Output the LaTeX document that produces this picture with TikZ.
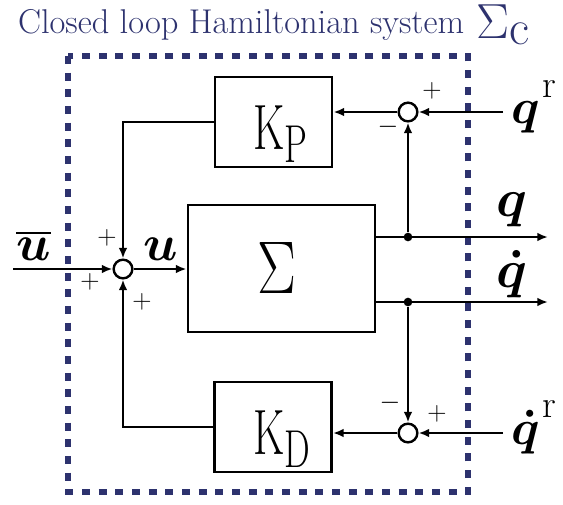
\RequirePackage{fix-cm}
\documentclass[tikz,border=0pt]{standalone}
\usepackage{amsmath}
\usepackage{graphicx}
\definecolor{mynavy}{RGB}{45,50,110}
\usetikzlibrary{arrows.meta}

\begin{document}
\begin{tikzpicture}[x=0.75pt, y=-0.75pt, >={Latex[length=8pt,width=6.5pt]}, line width=1.6pt,
  blk/.style={draw, line width=2.2pt, minimum width=87.75pt, minimum height=67.5pt, inner sep=0pt},
  sumnode/.style={draw, circle, line width=1.8pt, minimum size=14pt, inner sep=0pt},
  sgn/.style={font=\fontsize{20}{20}\selectfont, inner sep=0pt},
  lbl/.style={inner sep=0pt, anchor=base west},
  junc/.style={circle, fill, inner sep=0pt, minimum size=6.5pt}]
  \useasboundingbox (0,0) rectangle (563,504);
  % title
  \node[lbl, text=mynavy, font=\fontsize{25.8}{25.8}\selectfont] (title) at (17,33) {Closed loop Hamiltonian system};
  \node[lbl, text=mynavy, font=\fontsize{37}{37}\selectfont] (sigc) at (475,38) {$\Sigma$\raisebox{-4.5pt}{c}};
  % dashed border
  \draw[mynavy, line width=4pt, dash pattern=on 6pt off 6.5pt] (68,56) rectangle (468,492);
  % blocks
  \node[blk] (kp) at (273.5,122) {};
  \node[blk] (kd) at (273,427) {};
  \node[blk, minimum width=140.25pt, minimum height=95.25pt] (plant) at (281.5,268.5) {};
  \node[lbl, font=\fontsize{48}{48}\selectfont] (kptxt) at (252,149) {\scalebox{0.68}[1]{K\raisebox{-10pt}{\fontsize{40}{40}\selectfont P}}};
  \node[lbl, font=\fontsize{48}{48}\selectfont] (kdtxt) at (252,454) {\scalebox{0.68}[1]{K\raisebox{-10pt}{\fontsize{40}{40}\selectfont D}}};
  \node[inner sep=0pt, font=\fontsize{56}{56}\selectfont] (sigma) at (277,267.5) {\scalebox{0.78}[1]{$\Sigma$}};
  % summing points and branch points
  \node[sumnode] (sp) at (408,112) {};
  \node[sumnode] (sd) at (408,433) {};
  \node[sumnode] (su) at (123,269) {};
  \node[junc] (jq) at (408,237) {};
  \node[junc] (jqd) at (408,302) {};
  \coordinate (qrin) at (503,112);
  \coordinate (qdrin) at (503,433);
  \coordinate (ubin) at (13,269);
  \coordinate (qend) at (548,237);
  \coordinate (qdend) at (548,302);
  % connectors
  \draw[->] (qrin) -- (sp);
  \draw[->] (sp) -- (sp -| kp.east);
  \draw[->] (kp.west) -| (su);
  \draw[->] (kd.west) -| (su);
  \draw[->] (ubin) -- (su);
  \draw[->] (su) -- (su -| plant.west);
  \draw[->] (plant.east |- jq) -- (qend);
  \draw[->] (plant.east |- jqd) -- (qdend);
  \draw[->] (jq) -- (sp);
  \draw[->] (jqd) -- (sd);
  \draw[->] (qdrin) -- (sd);
  \draw[->] (sd) -- (sd -| kd.east);
  % signs
  \node[sgn] (s1) at (432,91) {$+$};
  \node[sgn] (s2) at (388,127) {$-$};
  \node[sgn] (s3) at (390,403) {$-$};
  \node[sgn] (s4) at (437,414) {$+$};
  \node[sgn] (s5) at (107,238) {$+$};
  \node[sgn] (s6) at (90,282) {$+$};
  \node[sgn] (s7) at (142,302) {$+$};
  % signal labels
  \node[lbl, font=\fontsize{38}{38}\selectfont] (ubar) at (15,260) {$\overline{\boldsymbol{u}}$};
  \node[lbl, font=\fontsize{38}{38}\selectfont] (ulab) at (142,260) {$\boldsymbol{u}$};
  \node[lbl, font=\fontsize{40}{40}\selectfont] (qlab) at (495,216) {$\boldsymbol{q}$};
  \node[lbl, font=\fontsize{40}{40}\selectfont] (qdlab) at (495,287) {$\boldsymbol{\dot{q}}$};
  \node[lbl, font=\fontsize{37}{37}\selectfont] (qr) at (510,123) {$\boldsymbol{q}$\kern2pt\raisebox{19.5pt}{\fontsize{29}{29}\selectfont r}};
  \node[lbl, font=\fontsize{37}{37}\selectfont] (qdr) at (510,444) {$\boldsymbol{\dot{q}}$\kern2pt\raisebox{20pt}{\fontsize{29}{29}\selectfont r}};
\end{tikzpicture}
\end{document}
